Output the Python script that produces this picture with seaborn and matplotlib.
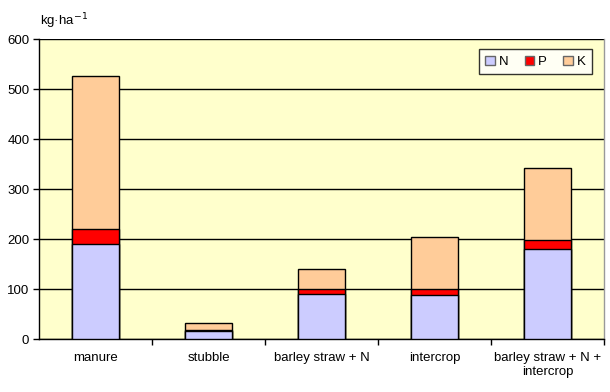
import pandas as pd
import matplotlib
matplotlib.use("Agg")
import matplotlib.pyplot as plt
from matplotlib.patches import Patch
import seaborn as sns

# data (kg/ha)
categories = ["manure", "stubble", "barley straw + N", "intercrop",
              "barley straw + N +\nintercrop"]
n_vals = [191, 17, 91, 89, 181]
p_vals = [30, 1, 9, 11, 18]
k_vals = [305, 15, 40, 105, 144]

colors = {"N": "#CCCCFF", "P": "#FF0000", "K": "#FFCC99"}

df = pd.DataFrame({"cat": categories, "N": n_vals, "P": p_vals, "K": k_vals})
df["NP"] = df["N"] + df["P"]
df["NPK"] = df["NP"] + df["K"]

sns.set_style("white")
plt.rcParams["font.family"] = ["Liberation Sans", "DejaVu Sans"]
plt.rcParams["text.color"] = "black"
plt.rcParams["xtick.color"] = "black"
plt.rcParams["ytick.color"] = "black"

fig = plt.figure(figsize=(6.1, 3.92), dpi=100)
ax = fig.add_axes([0.064, 0.135, 0.926, 0.7655])
ax.set_facecolor("#FFFFCC")

# stacked bars by overlapping cumulative totals
for col, c in [("NPK", colors["K"]), ("NP", colors["P"]), ("N", colors["N"])]:
    sns.barplot(data=df, x="cat", y=col, color=c, width=0.41,
                edgecolor="black", linewidth=1, saturation=1, ax=ax, zorder=3)

ax.set_ylim(0, 600)
ax.set_xlim(-0.5, 4.5)
ax.set_yticks(range(0, 601, 100))
ax.yaxis.grid(True, color="black", linewidth=1)
ax.set_axisbelow(True)
ax.set_xlabel("")
ax.set_ylabel("")

ax.tick_params(axis="y", left=True, length=4, width=1, labelsize=9.5, pad=3)
ax.tick_params(axis="x", which="major", length=0, labelsize=9.5, pad=9)
for t in ax.get_xticklabels():
    t.set_linespacing(1.3)
ax.set_xticks([i + 0.5 for i in range(5)], minor=True)
ax.tick_params(axis="x", which="minor", bottom=True, length=4, width=1)

for s in ["left", "bottom"]:
    ax.spines[s].set_color("black")
    ax.spines[s].set_linewidth(1)
ax.spines["top"].set_visible(False)
ax.spines["right"].set_color("#999999")
ax.spines["right"].set_linewidth(1)

fig.text(0.066, 0.945, "kg·ha$^{-1}$", fontsize=9.5, ha="left", va="center")

handles = [Patch(facecolor=colors[k], edgecolor="#666666", label=k) for k in ["N", "P", "K"]]
leg = ax.legend(handles=handles, ncol=3, loc="upper right",
                bbox_to_anchor=(0.979, 0.967), borderaxespad=0, frameon=True,
                fancybox=False, fontsize=9.5, handlelength=0.7, handleheight=0.7,
                handletextpad=0.3, columnspacing=1.25, borderpad=0.5)
leg.get_frame().set_edgecolor("black")
leg.get_frame().set_linewidth(1)
leg.get_frame().set_facecolor("white")

fig.savefig("out.png", dpi=100, facecolor="white")
